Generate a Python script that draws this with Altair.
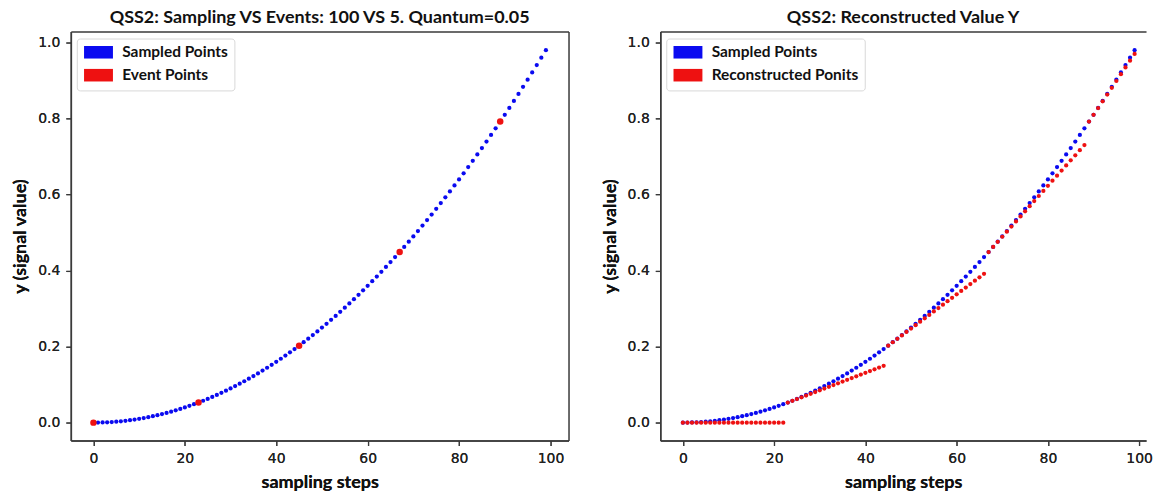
import altair as alt
import pandas as pd

# ---- data ----
steps = list(range(100))
sampled_y = [
    0.0, 0.0001, 0.0004, 0.0009, 0.0016, 0.0025, 0.0036, 0.0049, 0.0064, 0.0081,
    0.01, 0.0121, 0.0144, 0.0169, 0.0196, 0.0225, 0.0256, 0.0289, 0.0324, 0.0361,
    0.04, 0.0441, 0.0484, 0.0529, 0.0576, 0.0625, 0.0676, 0.0729, 0.0784, 0.0841,
    0.09, 0.0961, 0.1024, 0.1089, 0.1156, 0.1225, 0.1296, 0.1369, 0.1444, 0.1521,
    0.16, 0.1681, 0.1764, 0.1849, 0.1936, 0.2025, 0.2116, 0.2209, 0.2304, 0.2401,
    0.25, 0.2601, 0.2704, 0.2809, 0.2916, 0.3025, 0.3136, 0.3249, 0.3364, 0.3481,
    0.36, 0.3721, 0.3844, 0.3969, 0.4096, 0.4225, 0.4356, 0.4489, 0.4624, 0.4761,
    0.49, 0.5041, 0.5184, 0.5329, 0.5476, 0.5625, 0.5776, 0.5929, 0.6084, 0.6241,
    0.64, 0.6561, 0.6724, 0.6889, 0.7056, 0.7225, 0.7396, 0.7569, 0.7744, 0.7921,
    0.81, 0.8281, 0.8464, 0.8649, 0.8836, 0.9025, 0.9216, 0.9409, 0.9604, 0.9801,
]
event_x = [0, 23, 45, 67, 89]
event_y = [0.0, 0.0529, 0.2025, 0.4489, 0.7921]
recon_y = [
    0.0, 0.0, 0.0, 0.0, 0.0, 0.0, 0.0, 0.0, 0.0, 0.0,
    0.0, 0.0, 0.0, 0.0, 0.0, 0.0, 0.0, 0.0, 0.0, 0.0,
    0.0, 0.0, 0.0, 0.0529, 0.0575, 0.0621, 0.0667, 0.0713, 0.0759, 0.0805,
    0.0851, 0.0897, 0.0943, 0.0989, 0.1035, 0.1081, 0.1127, 0.1173, 0.1219, 0.1265,
    0.1311, 0.1357, 0.1403, 0.1449, 0.1495, 0.2025, 0.2115, 0.2205, 0.2295, 0.2385,
    0.2475, 0.2565, 0.2655, 0.2745, 0.2835, 0.2925, 0.3015, 0.3105, 0.3195, 0.3285,
    0.3375, 0.3465, 0.3555, 0.3645, 0.3735, 0.3825, 0.3915, 0.4489, 0.4623, 0.4757,
    0.4891, 0.5025, 0.5159, 0.5293, 0.5427, 0.5561, 0.5695, 0.5829, 0.5963, 0.6097,
    0.6231, 0.6365, 0.6499, 0.6633, 0.6767, 0.6901, 0.7035, 0.7169, 0.7303, 0.7921,
    0.8099, 0.8277, 0.8455, 0.8633, 0.8811, 0.8989, 0.9167, 0.9345, 0.9523, 0.9701,
]
x_ticks = [0, 20, 40, 60, 80, 100]
y_ticks = [0.0, 0.2, 0.4, 0.6, 0.8, 1.0]
left_title = "QSS2: Sampling VS Events: 100 VS 5. Quantum=0.05"
right_title = "QSS2: Reconstructed Value Y"
left_series = ["Sampled Points", "Event Points"]
right_series = ["Sampled Points", "Reconstructed Ponits"]

BLUE = "#0a0af0"
RED = "#ee1111"
FRAME = "#3a3a3a"
TITLE_FONT = "Lato"

df_sampled_l = pd.DataFrame({"step": steps, "y": sampled_y, "series": left_series[0]})
df_event = pd.DataFrame({"step": event_x, "y": event_y, "series": left_series[1]})
df_sampled_r = pd.DataFrame({"step": steps, "y": sampled_y, "series": right_series[0]})
df_recon = pd.DataFrame({"step": steps, "y": recon_y, "series": right_series[1]})

yscale = alt.Scale(domain=[-0.047, 1.029], nice=False, zero=False)

PATCH = "M-2.07,-0.9H2.07V0.9H-2.07Z"


def make_legend():
    return alt.Legend(
        title=None, orient="none", legendX=6, legendY=7,
        symbolType=PATCH, symbolSize=196, symbolOffset=8,
        symbolStrokeWidth=0, symbolOpacity=1,
        labelFont=TITLE_FONT, labelFontSize=15.5, labelFontWeight="bold",
        labelColor="#111", labelOffset=16, rowPadding=6,
        padding=6, strokeColor="#d8d8d8", fillColor="white", cornerRadius=3,
    )


def xaxis(orient="bottom", show=True):
    if show:
        return alt.Axis(title="sampling steps", values=x_ticks, grid=False, orient=orient,
                        domainColor=FRAME, domainWidth=1.5)
    return alt.Axis(title=None, labels=False, ticks=False, grid=False, orient=orient,
                    domainColor=FRAME, domainWidth=1.5)


def yaxis(orient="left", show=True):
    if show:
        return alt.Axis(title="y (signal value)", values=y_ticks, format=".1f", grid=False,
                        orient=orient, domainColor=FRAME, domainWidth=1.5)
    return alt.Axis(title=None, labels=False, ticks=False, grid=False, orient=orient,
                    domainColor=FRAME, domainWidth=1.5)


def panel(df_a, df_b, series, size_b, title, xdom, width, right_frame):
    xscale = alt.Scale(domain=xdom, nice=False, zero=False)
    color = alt.Color("series:N", scale=alt.Scale(domain=series, range=[BLUE, RED]),
                      legend=make_legend())
    a = alt.Chart(df_a).mark_circle(size=18, opacity=1).encode(
        x=alt.X("step:Q", scale=xscale, axis=xaxis()),
        y=alt.Y("y:Q", scale=yscale, axis=yaxis()),
        color=color,
    )
    b = alt.Chart(df_b).mark_circle(size=size_b, opacity=1).encode(
        x=alt.X("step:Q", scale=xscale, axis=xaxis()),
        y=alt.Y("y:Q", scale=yscale, axis=yaxis()),
        color=color,
    )
    frame_y = alt.Chart(df_a).mark_circle(opacity=0).encode(
        x=alt.X("step:Q", scale=xscale, axis=xaxis("top", False)),
        y=alt.Y("y:Q", scale=yscale, axis=yaxis("right", False) if right_frame else None),
    )
    return alt.layer(a, b, frame_y).resolve_axis(x="independent", y="independent").properties(
        width=width, height=410,
        title=alt.Title(title, font=TITLE_FONT, fontSize=18, fontWeight="bold",
                        anchor="middle", offset=5, color="#111"),
        view=alt.ViewBackground(stroke="transparent"),
    )


left = panel(df_sampled_l, df_event, left_series, 42, left_title, [-4.95, 103.95], 499, True)
right = panel(df_sampled_r, df_recon, right_series, 18, right_title, [-4.95, 101.5], 487, False)

chart = alt.hconcat(left, right, spacing=31).resolve_scale(color="independent").configure(
    padding={"left": 11, "top": 7, "right": 0, "bottom": 0},
    background="white",
).configure_view(stroke="transparent").configure_axis(
    labelFont="DejaVu Sans", labelFontSize=14, labelColor="#222",
    tickColor=FRAME, tickSize=5, tickWidth=1.2, labelPadding=6,
    titleFont=TITLE_FONT, titleFontSize=18, titleFontWeight="bold", titleColor="#111",
    titlePadding=8,
)

chart.save("out.html", embed_options={"renderer": "svg", "actions": False})
